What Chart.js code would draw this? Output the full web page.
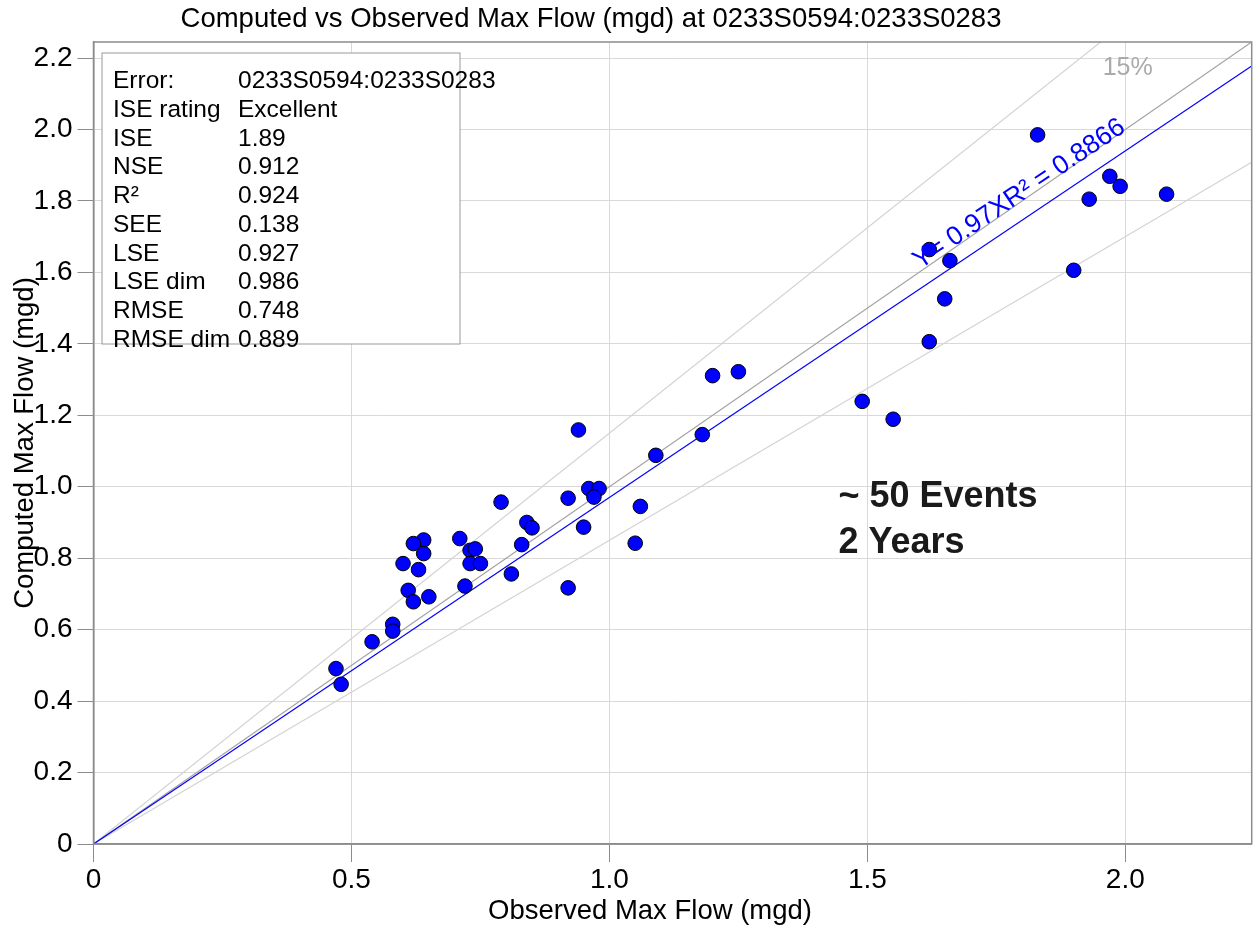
<!DOCTYPE html>
<html>
<head>
<meta charset="utf-8">
<title>Computed vs Observed Max Flow</title>
<script src="https://cdn.jsdelivr.net/npm/chart.js@4.4.1/dist/chart.umd.min.js"></script>
<style>
  html, body { margin: 0; padding: 0; background: #fff; }
  #wrap { width: 1260px; height: 929px; }
</style>
</head>
<body>
<div id="wrap"><canvas id="flowChart" width="1260" height="929"></canvas></div>
<script>
// peak flow per storm event, observed vs model (mgd)
const observed = [
  0.94, 1.18, 1.09, 0.96, 0.98, 0.97, 0.92, 1.06, 0.79, 0.84,
  0.85, 0.95, 1.05, 0.83, 0.71, 0.64, 0.62, 0.64, 0.73, 0.74,
  0.60, 0.63, 0.73, 0.75, 0.81, 0.92, 0.61, 0.72, 0.62, 0.65,
  0.58, 0.58, 0.54, 0.47, 0.48, 1.83, 1.97, 1.99, 2.08, 1.93,
  1.62, 1.66, 1.90, 1.65, 1.20, 1.25, 1.62, 1.49, 1.55
];
const computed = [
  1.159, 1.146, 1.088, 0.995, 0.995, 0.971, 0.968, 0.945, 0.957, 0.900,
  0.885, 0.887, 0.842, 0.838, 0.855, 0.851, 0.841, 0.813, 0.822, 0.826,
  0.785, 0.768, 0.785, 0.785, 0.756, 0.717, 0.710, 0.722, 0.678, 0.692,
  0.615, 0.596, 0.566, 0.491, 0.447, 1.985, 1.869, 1.841, 1.819, 1.805,
  1.664, 1.633, 1.606, 1.526, 1.311, 1.322, 1.406, 1.239, 1.189
];

const fitSlope = 0.97;
const fitR2 = '0.8866';
const bandSlopes = [1.15, 0.85];   // +/-15 % envelope
const axisMax = 2.245;

const xTicks = [0, 0.5, 1.0, 1.5, 2.0];
const yTicks = [0, 0.2, 0.4, 0.6, 0.8, 1.0, 1.2, 1.4, 1.6, 1.8, 2.0, 2.2];

const siteId = '0233S0594:0233S0283';
const statNames  = ['Error:', 'ISE rating', 'ISE', 'NSE', 'R\u00b2', 'SEE', 'LSE', 'LSE dim', 'RMSE', 'RMSE dim'];
const statValues = [siteId, 'Excellent', '1.89', '0.912', '0.924', '0.138', '0.927', '0.986', '0.748', '0.889'];

const FONT = "'Liberation Sans', Arial, sans-serif";
Chart.defaults.font.family = FONT;
Chart.defaults.color = '#000';

function lineThrough(slope) {
  return [0, axisMax].map(x => ({ x: x, y: slope * x }));
}

const fmt = v => (v === 0 ? '0' : v.toFixed(1));

// frame, titles, stats box and notes drawn straight on the canvas
const decor = {
  id: 'decor',
  afterDatasetsDraw(chart) {
    const { ctx, chartArea: a, scales } = chart;
    const xs = scales.x, ys = scales.y;
    ctx.save();

    // stats box
    const bx = a.left + 8.5, by = a.top + 11, bw = 358, bh = 291;
    ctx.fillStyle = '#fff';
    ctx.fillRect(bx, by, bw, bh);
    ctx.strokeStyle = '#999';
    ctx.lineWidth = 1;
    ctx.strokeRect(bx, by, bw, bh);
    ctx.fillStyle = '#000';
    ctx.font = '24.5px ' + FONT;
    ctx.textAlign = 'left';
    ctx.textBaseline = 'alphabetic';
    statNames.forEach((name, i) => {
      const yy = by + 35 + i * 28.75;
      ctx.fillText(name, bx + 11, yy);
      ctx.fillText(statValues[i], bx + 136, yy);
    });

    // regression label, laid along the fitted line
    const x0 = 1.60;
    const p0x = xs.getPixelForValue(x0), p0y = ys.getPixelForValue(fitSlope * x0);
    const p1x = xs.getPixelForValue(x0 + 0.5), p1y = ys.getPixelForValue(fitSlope * (x0 + 0.5));
    ctx.save();
    ctx.translate(p0x, p0y);
    ctx.rotate(Math.atan2(p1y - p0y, p1x - p0x));
    ctx.fillStyle = '#0000ff';
    ctx.font = '26.5px ' + FONT;
    ctx.fillText('Y= ' + fitSlope + 'XR\u00b2 = ' + fitR2, 12, -16);
    ctx.restore();

    // envelope label at the top edge
    const topX = xs.getPixelForValue(ys.max / bandSlopes[0]);
    ctx.fillStyle = '#aaaaaa';
    ctx.font = '25px ' + FONT;
    ctx.fillText('15%', topX + 2, a.top + 33);

    // event count note
    ctx.fillStyle = '#1a1a1a';
    ctx.font = 'bold 36px ' + FONT;
    const nx = xs.getPixelForValue(1.444);
    ctx.fillText('~ 50 Events', nx, ys.getPixelForValue(0.943));
    ctx.fillText('2 Years', nx, ys.getPixelForValue(0.814));

    // plot frame
    ctx.strokeStyle = '#8c8c8c';
    ctx.lineWidth = 1.5;
    ctx.strokeRect(a.left, a.top, a.right - a.left, a.bottom - a.top);

    // chart title and x axis title
    ctx.fillStyle = '#000';
    ctx.font = '27.5px ' + FONT;
    ctx.textAlign = 'center';
    ctx.fillText('Computed vs Observed Max Flow (mgd) at ' + siteId, 591, 27);
    ctx.textBaseline = 'middle';
    ctx.fillText('Observed Max Flow (mgd)', 650, 911);
    ctx.restore();
  }
};

new Chart(document.getElementById('flowChart'), {
  type: 'scatter',
  data: {
    datasets: [
      {
        label: 'Events',
        data: observed.map((x, i) => ({ x: x, y: computed[i] })),
        backgroundColor: '#0000ff',
        borderColor: '#000',
        borderWidth: 1,
        pointRadius: 7.3,
        order: 0
      },
      {
        label: 'Fit',
        data: lineThrough(fitSlope),
        showLine: true,
        borderColor: '#0000ff',
        borderWidth: 1.2,
        pointRadius: 0,
        order: 1
      },
      {
        label: '1:1',
        data: lineThrough(1),
        showLine: true,
        borderColor: '#a3a3a3',
        borderWidth: 1.2,
        pointRadius: 0,
        order: 2
      },
      ...bandSlopes.map((s, i) => ({
        label: i === 0 ? '+15%' : '-15%',
        data: lineThrough(s),
        showLine: true,
        borderColor: '#d3d3d3',
        borderWidth: 1.2,
        pointRadius: 0,
        order: 3
      }))
    ]
  },
  options: {
    responsive: false,
    animation: false,
    layout: { padding: { top: 42, right: 2, left: 0, bottom: 0 } },
    plugins: {
      legend: { display: false },
      tooltip: { enabled: false },
      title: { display: false }
    },
    scales: {
      x: {
        type: 'linear',
        min: 0,
        max: axisMax,
        afterBuildTicks: s => { s.ticks = xTicks.map(v => ({ value: v })); },
        afterFit: s => { s.height = 85; },
        ticks: {
          callback: v => fmt(v),
          font: { size: 28 },
          color: '#000',
          padding: 1,
          maxRotation: 0
        },
        grid: { color: '#d9d9d9', tickColor: '#8c8c8c', tickLength: 18 },
        border: { color: '#8c8c8c', width: 1.5 }
      },
      y: {
        type: 'linear',
        min: 0,
        max: axisMax,
        afterBuildTicks: s => { s.ticks = yTicks.map(v => ({ value: v })); },
        afterFit: s => { s.width = 93.5; },
        ticks: {
          callback: v => fmt(v),
          font: { size: 28 },
          color: '#000',
          padding: 5
        },
        grid: { color: '#d9d9d9', tickColor: '#8c8c8c', tickLength: 16 },
        border: { color: '#8c8c8c', width: 1.5 },
        title: {
          display: true,
          text: 'Computed Max Flow (mgd)',
          font: { size: 27.5 },
          color: '#000',
          padding: { top: 9, bottom: 0 }
        }
      }
    }
  },
  plugins: [decor]
});
</script>
</body>
</html>
